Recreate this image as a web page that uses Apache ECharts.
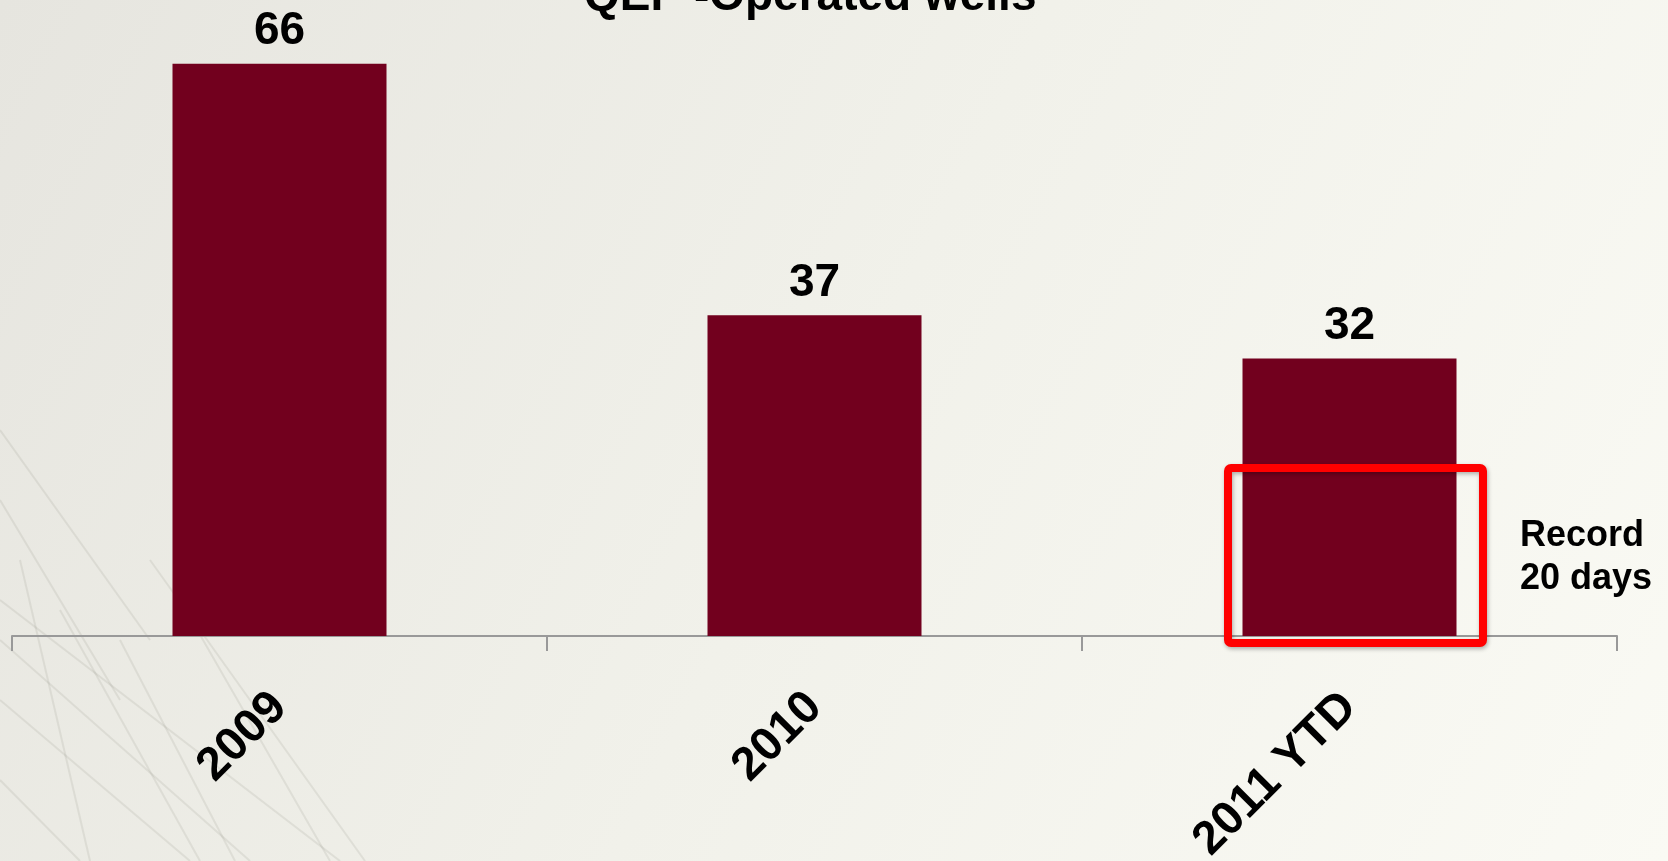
<!DOCTYPE html>
<html>
<head>
<meta charset="utf-8">
<title>QEP-Operated wells</title>
<script src="https://cdn.jsdelivr.net/npm/echarts@6/dist/echarts.min.js"></script>
<style>
  html, body { margin: 0; padding: 0; }
  #main { width: 1668px; height: 861px; }
</style>
</head>
<body>
<div id="main"></div>
<script>
// data
var categories = ['2009', '2010', '2011 YTD'];
var wells = [66, 37, 32];
var noteLines = ['Record', '20 days'];

var font = '"Liberation Sans", Arial, sans-serif';
var barColor = '#72001e';

// faint background swooshes, bottom left (decoration only)
var swooshes = [
    [0, 600, 340, 861], [0, 640, 250, 861], [0, 700, 190, 861],
    [60, 610, 200, 861], [120, 640, 235, 861], [150, 560, 365, 861],
    [0, 780, 80, 861], [180, 600, 330, 861], [0, 430, 150, 640],
    [0, 500, 120, 700], [20, 560, 90, 861]
];
var swooshGraphics = swooshes.map(function (s) {
    return {
        type: 'line',
        shape: { x1: s[0], y1: s[1], x2: s[2], y2: s[3] },
        style: { stroke: 'rgba(140,140,130,0.16)', lineWidth: 2 },
        silent: true,
        z: -10
    };
});

var chart = echarts.init(document.getElementById('main'));

chart.setOption({
    backgroundColor: {
        type: 'linear', x: 0, y: 0, x2: 1, y2: 1,
        colorStops: [
            { offset: 0, color: '#e6e5df' },
            { offset: 0.5, color: '#f1f1ea' },
            { offset: 1, color: '#fafaf4' }
        ]
    },
    title: {
        text: 'QEP -Operated wells',
        left: 584,
        top: -26,
        padding: 0,
        textStyle: { fontFamily: font, fontSize: 46, fontWeight: 'bold', color: '#000' }
    },
    grid: { left: 12, right: 51, top: 29, bottom: 225, outerBoundsMode: 'none', containLabel: false },
    xAxis: {
        type: 'category',
        data: categories,
        axisLine: { lineStyle: { color: '#999', width: 2 } },
        axisTick: { show: true, length: 15, lineStyle: { color: '#999', width: 2 } },
        axisLabel: {
            rotate: 45,
            margin: 64,
            interval: 0,
            fontFamily: font,
            fontSize: 47,
            fontWeight: 'bold',
            color: '#000'
        }
    },
    yAxis: {
        type: 'value',
        min: 0,
        max: 70,
        show: false
    },
    series: [{
        type: 'bar',
        data: wells,
        barWidth: '40%',
        itemStyle: { color: barColor },
        label: {
            show: true,
            position: 'top',
            distance: 9,
            fontFamily: font,
            fontSize: 46,
            fontWeight: 'bold',
            color: '#000'
        }
    }],
    graphic: swooshGraphics.concat([
        {
            type: 'rect',
            shape: { x: 1228, y: 468, width: 255, height: 175, r: 3 },
            style: {
                fill: 'none',
                stroke: '#ff0000',
                lineWidth: 8,
                shadowBlur: 4,
                shadowOffsetX: 1,
                shadowOffsetY: 2,
                shadowColor: 'rgba(0,0,0,0.3)'
            },
            z: 100
        },
        {
            type: 'text',
            left: 1520,
            top: 515,
            style: {
                text: noteLines.join('\n'),
                fontFamily: font,
                fontSize: 36,
                fontWeight: 'bold',
                lineHeight: 43,
                fill: '#000'
            },
            z: 100
        }
    ])
});

window.onresize = chart.resize;
</script>
</body>
</html>
